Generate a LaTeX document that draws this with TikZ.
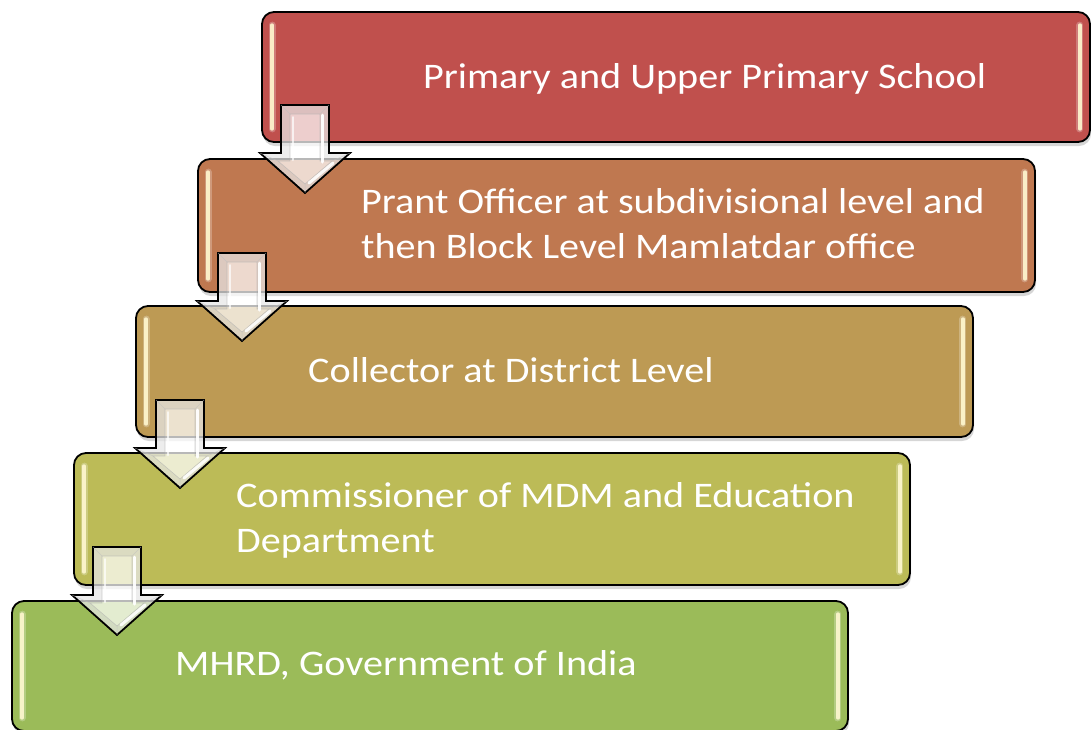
\documentclass[tikz,border=0pt]{standalone}
\usepackage{fontspec}
\setmainfont{Carlito}[FakeStretch=1.115]
\usetikzlibrary{calc}
\definecolor{cA}{HTML}{C0504D}
\definecolor{cB}{HTML}{BF7850}
\definecolor{cC}{HTML}{BD9A54}
\definecolor{cD}{HTML}{BCBB57}
\definecolor{cE}{HTML}{9BBB59}
\definecolor{hlcol}{HTML}{FFF8D0}
\begin{document}
\begin{tikzpicture}[x=1pt,y=-1pt,
  gbox/.style={draw=black, line width=1.8pt, rounded corners=12pt, inner sep=0pt, minimum height=131pt},
  shadowbox/.style={fill=black, opacity=0.16, rounded corners=12pt},
  hl/.style={draw=hlcol, line width=3.5pt, line cap=round, opacity=0.9},
  hlglow/.style={draw=white, line width=7pt, line cap=round, opacity=0.25},
  lbl/.style={text=white, font=\fontsize{36pt}{45pt}\selectfont, align=left, inner sep=0pt},
  arrowbody/.style={draw=black, line width=1.8pt, fill=white, fill opacity=0.72, line join=miter},
  downarrow/.pic={
    \path[arrowbody] (-24,0) -- (24,0) -- (24,48) -- (45,48) -- (0,88) -- (-45,48) -- (-24,48) -- cycle;
    \path[fill=black, fill opacity=0.07, even odd rule]
      (-24,0) -- (24,0) -- (24,48) -- (45,48) -- (0,88) -- (-45,48) -- (-24,48) -- cycle
      (-15,9) -- (15,9) -- (15,56) -- (27,56) -- (0,79) -- (-27,56) -- (-15,56) -- cycle;
    \draw[black!30, line width=0.6pt, opacity=0.6] (-15,9) -- (15,9) -- (15,56) -- (27,56) -- (0,79) -- (-27,56) -- (-15,56) -- cycle;
    \draw[black!25, line width=0.5pt, opacity=0.6] (-24,0) -- (-15,9) (24,0) -- (15,9) (45,48) -- (27,56) (-45,48) -- (-27,56) (0,88) -- (0,79);
    \draw[white, line width=3pt, line cap=round, opacity=0.95] (17,10) -- (17,57);
    \draw[white, line width=3pt, line cap=round, opacity=0.9] (28,58) -- (4,78);
    \draw[white, line width=2pt, line cap=round, opacity=0.7] (-12,12) -- (-12,55);
  }]
\useasboundingbox (0,0) rectangle (1091,729);
\fill[white] (0,0) rectangle (1091,729);

% shadows
\fill[shadowbox] (263,15) rectangle (1091,146);
\fill[shadowbox] (199,162) rectangle (1036,296);
\fill[shadowbox] (137,309) rectangle (974,441);
\fill[shadowbox] (75,456) rectangle (911,589);
\fill[shadowbox] (13,604) rectangle (849,735);

% boxes
\node[gbox, fill=cA, minimum width=828pt, minimum height=130pt] (b1) at (676,77) {};
\node[gbox, fill=cB, minimum width=837pt, minimum height=133pt] (b2) at (616.5,225.5) {};
\node[gbox, fill=cC, minimum width=837pt, minimum height=131pt] (b3) at (554.5,371.5) {};
\node[gbox, fill=cD, minimum width=836pt, minimum height=132pt] (b4) at (492,519) {};
\node[gbox, fill=cE, minimum width=836pt, minimum height=130pt] (b5) at (430,666) {};

% gloss highlights
\foreach \b in {b1,b2,b3,b4,b5}{
  \draw[hlglow] ([xshift=11pt,yshift=-14pt]\b.north west) -- ([xshift=11pt,yshift=14pt]\b.south west);
  \draw[hl] ([xshift=11pt,yshift=-14pt]\b.north west) -- ([xshift=11pt,yshift=14pt]\b.south west);
  \draw[hlglow] ([xshift=-11pt,yshift=-14pt]\b.north east) -- ([xshift=-11pt,yshift=14pt]\b.south east);
  \draw[hl] ([xshift=-11pt,yshift=-14pt]\b.north east) -- ([xshift=-11pt,yshift=14pt]\b.south east);
}

% labels
\node[lbl, anchor=base west] (t1) at (423,88) {Primary and Upper Primary School};
\node[lbl, anchor=base west] (t2) at (361,258) {Prant Officer at subdivisional level and\\then Block Level Mamlatdar office};
\node[lbl, anchor=base west] (t3) at (308,382) {Collector at District Level};
\node[lbl, anchor=base west] (t4) at (236,552) {Commissioner of MDM and Education\\Department};
\node[lbl, anchor=base west] (t5) at (175,675) {MHRD, Government of India};

% arrows
\pic (a1) at (305,105) {downarrow};
\pic (a2) at (242,253) {downarrow};
\pic (a3) at (180,400) {downarrow};
\pic (a4) at (117,547) {downarrow};
\end{tikzpicture}
\end{document}
